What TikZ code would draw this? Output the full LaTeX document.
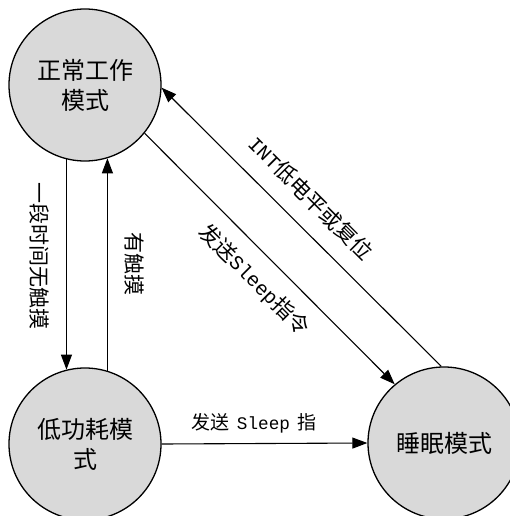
\documentclass[tikz,border=0pt]{standalone}
\usepackage{fontspec}
\setmainfont{Noto Sans CJK SC}
\newfontfamily\lat[Scale=0.93]{Liberation Mono}
\usetikzlibrary{arrows.meta}
\definecolor{circfill}{RGB}{217,217,217}
\begin{document}
\begin{tikzpicture}[x=1pt,y=-1pt,
  state/.style={circle,draw=black,line width=1.3pt,fill=circfill,minimum size=152pt,inner sep=0pt,align=center,font=\fontsize{24}{30}\selectfont},
  arr/.style={line width=1.1pt,-{Triangle[length=15pt,width=11pt]}},
  lbl/.style={inner sep=0pt}]
\useasboundingbox (0,0) rectangle (510,516);
\node[state] (normal) at (85,85) {正常工作\\模式};
\node[state] (low) at (85,444) {低功耗模\\式};
\node[state] (sleep) at (444,443) {睡眠模式};
\draw[arr] (normal.256) -- (low.104);
\draw[arr] (low.73) -- (normal.287);
\draw[arr] (low.east) -- (sleep.west);
\draw[arr] (normal.-39) -- (sleep.130);
\draw[arr] (sleep.92) -- (normal.-2);
\node[lbl,rotate=-90,font=\fontsize{21}{21}\selectfont] (l1) at (40,256) {一段时间无触摸};
\node[lbl,rotate=-90,font=\fontsize{21}{21}\selectfont] (l2) at (134,264) {有触摸};
\node[lbl,rotate=-45,font=\fontsize{21.5}{22}\selectfont] (l3) at (311,198) {{\lat INT}低电平或复位};
\node[lbl,rotate=-45,font=\fontsize{21.5}{22}\selectfont] (l4) at (254,280) {发送{\lat Sleep}指令};
\node[lbl,font=\fontsize{19}{19}\selectfont] (l5) at (254,423) {发送\hspace{0.4em}{\lat Sleep}\hspace{0.4em}指};
\end{tikzpicture}
\end{document}
